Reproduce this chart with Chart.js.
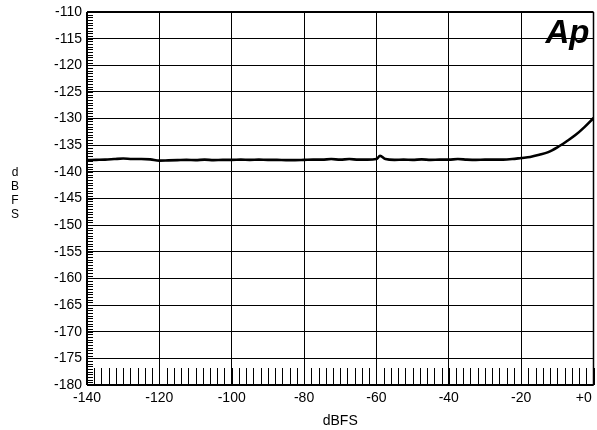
<!DOCTYPE html>
<html>
<head>
<meta charset="utf-8">
<script src="https://cdn.jsdelivr.net/npm/chart.js@4/dist/chart.umd.min.js"></script>
<style>
html,body{margin:0;padding:0;background:#fff;}
#wrap{width:597px;height:430px;position:relative;}
</style>
</head>
<body>
<div id="wrap"><canvas id="c" width="597" height="430"></canvas></div>
<script>
const levelDBFS = [-140,-137.5,-135,-132.5,-130,-127.5,-125,-122.5,-120,-117.5,-115,-112.5,-110,-107.5,-105,-102.5,-100,-97.5,-95,-92.5,-90,-87.5,-85,-82.5,-80,-77.5,-75,-72.5,-70,-67.5,-65,-62.5,-60,-59,-57.5,-55,-52.5,-50,-47.5,-45,-42.5,-40,-37.5,-35,-32.5,-30,-27.5,-25,-22.5,-20,-17.5,-15,-12.5,-10,-7.5,-5,-2.5,0];
const noiseDBFS = [-137.8,-137.75,-137.7,-137.6,-137.5,-137.6,-137.6,-137.65,-137.9,-137.85,-137.8,-137.75,-137.8,-137.7,-137.8,-137.75,-137.75,-137.7,-137.75,-137.7,-137.75,-137.75,-137.8,-137.8,-137.75,-137.7,-137.7,-137.6,-137.7,-137.6,-137.7,-137.7,-137.6,-137.0,-137.6,-137.75,-137.7,-137.75,-137.65,-137.75,-137.7,-137.7,-137.6,-137.7,-137.75,-137.7,-137.7,-137.7,-137.6,-137.4,-137.2,-136.8,-136.3,-135.4,-134.3,-133.1,-131.6,-129.9];
const xTicks = [-140,-120,-100,-80,-60,-40,-20,0];
const yTicks = [-110,-115,-120,-125,-130,-135,-140,-145,-150,-155,-160,-165,-170,-175,-180];
const xMinorStep = 2;
const yMinorStep = 0.5;
const xTitle = 'dBFS';
const yTitleLetters = ['d','B','F','S'];
const logoText = 'Ap';

const FONT = 'Liberation Sans, Arial, Helvetica, sans-serif';

const decor = {
  id: 'decor',
  afterDatasetsDraw(chart) {
    const ctx = chart.ctx, a = chart.chartArea;
    const xs = chart.scales.x, ys = chart.scales.y;
    ctx.save();
    ctx.strokeStyle = '#000';
    ctx.lineWidth = 1;
    ctx.beginPath();
    for (let v = ys.min; v <= ys.max + 1e-9; v += yMinorStep) {
      const y = Math.round(ys.getPixelForValue(v)) + 0.5;
      ctx.moveTo(a.left, y); ctx.lineTo(a.left + 6, y);
    }
    for (let v = xs.min; v <= xs.max + 1e-9; v += xMinorStep) {
      const x = Math.round(xs.getPixelForValue(v)) + 0.5;
      ctx.moveTo(x, a.bottom); ctx.lineTo(x, a.bottom - 17);
    }
    ctx.stroke();
    ctx.lineWidth = 2;
    ctx.beginPath();
    ctx.moveTo(a.left, a.top); ctx.lineTo(a.right, a.top);
    ctx.moveTo(a.left, a.bottom); ctx.lineTo(a.right, a.bottom);
    ctx.moveTo(a.left, a.top); ctx.lineTo(a.left, a.bottom);
    ctx.stroke();
    ctx.lineWidth = 1.5;
    ctx.beginPath();
    ctx.moveTo(a.right, a.top); ctx.lineTo(a.right, a.bottom);
    ctx.stroke();
    ctx.fillStyle = '#000';
    ctx.font = 'italic bold 33px ' + FONT;
    ctx.textAlign = 'right';
    ctx.textBaseline = 'alphabetic';
    ctx.fillText(logoText, a.right - 4, a.top + 31);
    ctx.font = '12px ' + FONT;
    ctx.textAlign = 'center';
    ctx.textBaseline = 'middle';
    yTitleLetters.forEach((ch, i) => ctx.fillText(ch, 15, 173 + i * 14));
    ctx.restore();
  }
};

new Chart(document.getElementById('c'), {
  type: 'line',
  data: {
    datasets: [{
      data: levelDBFS.map((x, i) => ({x: x, y: noiseDBFS[i]})),
      borderColor: '#000',
      borderWidth: 2.6,
      pointRadius: 0,
      cubicInterpolationMode: 'monotone',
      fill: false
    }]
  },
  options: {
    responsive: false,
    animation: false,
    devicePixelRatio: 1,
    layout: { padding: { top: 12, right: 3.5, left: 0, bottom: 0 } },
    plugins: { legend: { display: false }, tooltip: { enabled: false } },
    scales: {
      x: {
        type: 'linear', min: -140, max: 0,
        afterBuildTicks: s => { s.ticks = xTicks.map(v => ({value: v})); },
        afterFit: s => { s.height = 45; s.paddingLeft = 0; s.paddingRight = 0; },
        ticks: {
          color: '#000', font: { family: FONT, size: 14 }, padding: 5, maxRotation: 0,
          autoSkip: false,
          callback: v => v === 0 ? '+0\u00A0\u00A0\u00A0\u00A0\u00A0' : String(v)
        },
        grid: { color: '#000', lineWidth: 1, drawTicks: false },
        border: { display: false },
        title: { display: true, text: xTitle, color: '#000', font: { family: FONT, size: 14 }, padding: 0 }
      },
      y: {
        type: 'linear', min: -180, max: -110,
        afterBuildTicks: s => { s.ticks = yTicks.slice().reverse().map(v => ({value: v})); },
        afterFit: s => { s.width = 87; s.paddingTop = 0; s.paddingBottom = 0; },
        ticks: { color: '#000', font: { family: FONT, size: 14 }, padding: 5, autoSkip: false },
        grid: { color: '#000', lineWidth: 1, drawTicks: false },
        border: { display: false }
      }
    }
  },
  plugins: [decor]
});
</script>
</body>
</html>
